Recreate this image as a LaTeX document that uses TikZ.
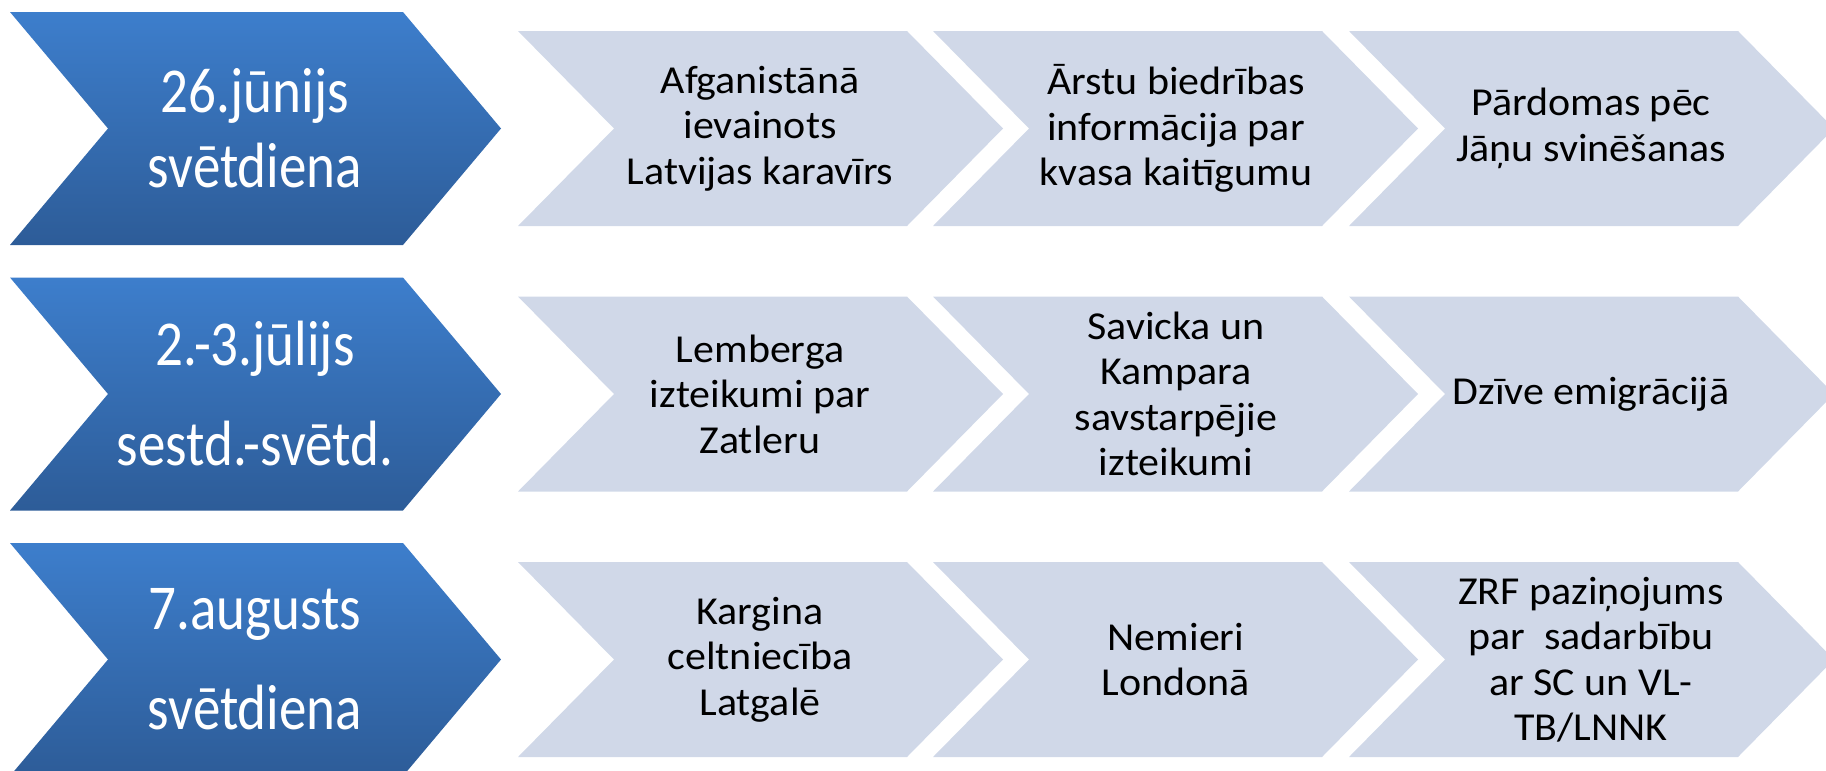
\documentclass[tikz,border=0pt]{standalone}
\usepackage{fontspec}
\setmainfont{Carlito}
\newfontfamily\dayfont[FakeStretch=0.86]{Carlito}
\newfontfamily\topicfont[FakeStretch=1.06]{Carlito}

\definecolor{daytop}{RGB}{61,126,204}
\definecolor{daybot}{RGB}{45,92,152}
\definecolor{topicfill}{RGB}{208,216,232}

\tikzset{
  daychev/.style={top color=daytop,bottom color=daybot},
  topicchev/.style={fill=topicfill},
  daytext/.style={text=white,align=center,font=\dayfont\fontsize{32}{37.5}\selectfont},
  topictext/.style={align=center,font=\topicfont\fontsize{19.8}{22.75}\selectfont}
}

\begin{document}
\begin{tikzpicture}[x=0.5pt,y=-0.5pt,inner sep=0pt]
\useasboundingbox (0,0) rectangle (1826,771);
\path[daychev] (10,12) -- ++(393,0) -- ++(98,116.5) -- ++(-98,116.5) -- ++(-393,0) -- ++(98,-116.5) -- cycle;
\path[topicchev] (518,31) -- ++(389,0) -- ++(96,97.5) -- ++(-96,97.5) -- ++(-389,0) -- ++(96,-97.5) -- cycle;
\path[topicchev] (933,31) -- ++(389,0) -- ++(96,97.5) -- ++(-96,97.5) -- ++(-389,0) -- ++(96,-97.5) -- cycle;
\path[topicchev] (1349,31) -- ++(389,0) -- ++(96,97.5) -- ++(-96,97.5) -- ++(-389,0) -- ++(96,-97.5) -- cycle;
\node[daytext] (day1) at (255,128.5) {26.jūnijs\\svētdiena};
\node[topictext] (t11) at (760,128.5) {Afganistānā\\ievainots\\Latvijas karavīrs};
\node[topictext] (t12) at (1176,128.5) {Ārstu biedrības\\informācija par\\kvasa kaitīgumu};
\node[topictext] (t13) at (1591,128.5) {Pārdomas pēc\\Jāņu svinēšanas};

\path[daychev] (10,277.5) -- ++(393,0) -- ++(98,116.5) -- ++(-98,116.5) -- ++(-393,0) -- ++(98,-116.5) -- cycle;
\path[topicchev] (518,296.5) -- ++(389,0) -- ++(96,97.5) -- ++(-96,97.5) -- ++(-389,0) -- ++(96,-97.5) -- cycle;
\path[topicchev] (933,296.5) -- ++(389,0) -- ++(96,97.5) -- ++(-96,97.5) -- ++(-389,0) -- ++(96,-97.5) -- cycle;
\path[topicchev] (1349,296.5) -- ++(389,0) -- ++(96,97.5) -- ++(-96,97.5) -- ++(-389,0) -- ++(96,-97.5) -- cycle;
\node[daytext] (day2) at (255,394) {2.-3.jūlijs\\[12.5pt]sestd.-svētd.};
\node[topictext] (t21) at (760,394) {Lemberga\\izteikumi par\\Zatleru};
\node[topictext] (t22) at (1176,394) {Savicka un\\Kampara\\savstarpējie\\izteikumi};
\node[topictext] (t23) at (1591,394) {Dzīve emigrācijā};

\path[daychev] (10,543) -- ++(393,0) -- ++(98,116.5) -- ++(-98,116.5) -- ++(-393,0) -- ++(98,-116.5) -- cycle;
\path[topicchev] (518,562) -- ++(389,0) -- ++(96,97.5) -- ++(-96,97.5) -- ++(-389,0) -- ++(96,-97.5) -- cycle;
\path[topicchev] (933,562) -- ++(389,0) -- ++(96,97.5) -- ++(-96,97.5) -- ++(-389,0) -- ++(96,-97.5) -- cycle;
\path[topicchev] (1349,562) -- ++(389,0) -- ++(96,97.5) -- ++(-96,97.5) -- ++(-389,0) -- ++(96,-97.5) -- cycle;
\node[daytext] (day3) at (255,659.5) {7.augusts\\[12.5pt]svētdiena};
\node[topictext] (t31) at (760,659.5) {Kargina\\celtniecība\\Latgalē};
\node[topictext] (t32) at (1176,659.5) {Nemieri\\Londonā};
\node[topictext] (t33) at (1591,659.5) {ZRF paziņojums\\par\ \ sadarbību\\ar SC un VL-\\TB/LNNK};
\end{tikzpicture}
\end{document}
